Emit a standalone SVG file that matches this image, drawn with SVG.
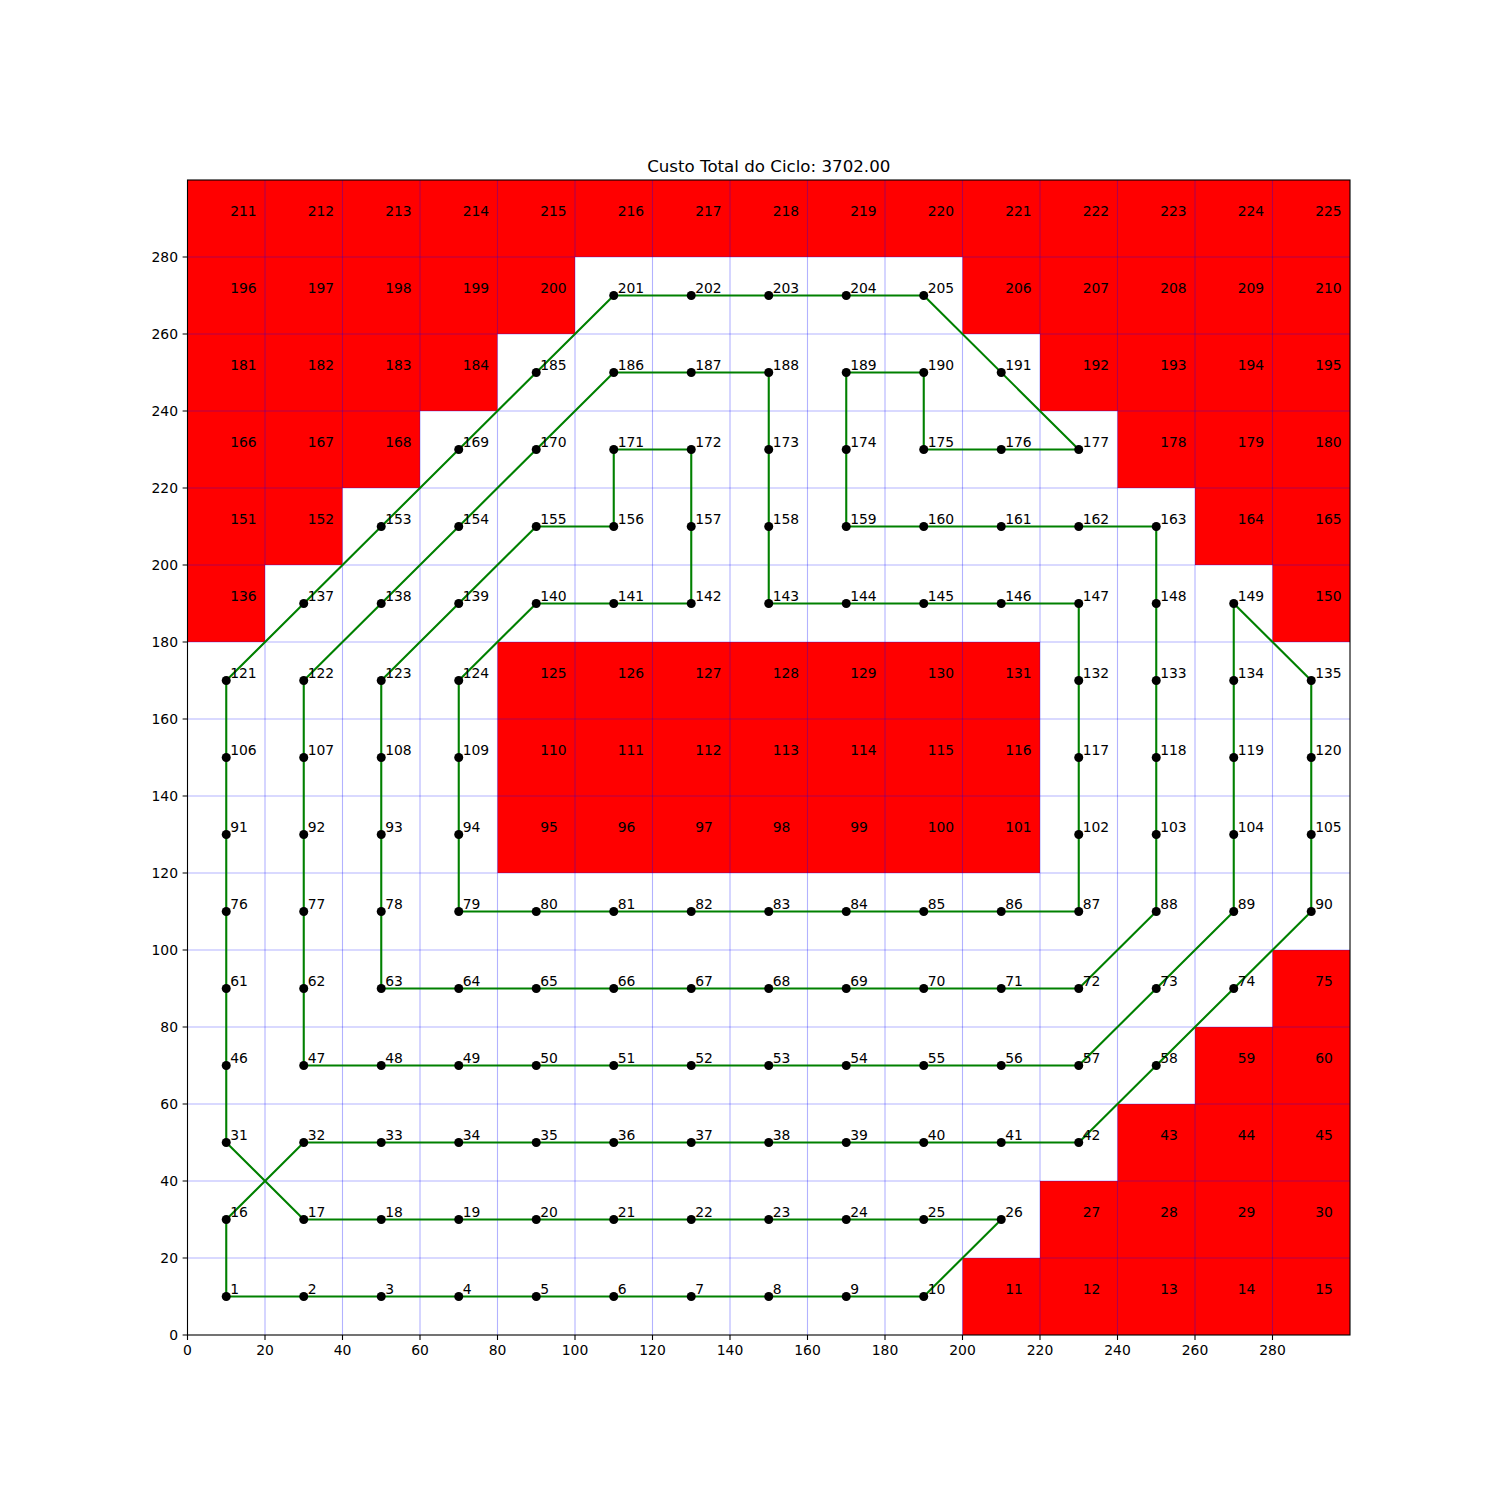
<svg xmlns="http://www.w3.org/2000/svg" width="1500" height="1500" viewBox="0 0 1500 1500">
<style>
text{font-family:"DejaVu Sans","Liberation Sans",sans-serif;fill:#000}
.l{font-size:13.9px}
.t{font-size:13.9px}
.ob{fill:#ff0000}
.gr{stroke:#0000ff;stroke-opacity:0.3;stroke-width:1.1;fill:none}
.tk{stroke:#000;stroke-width:1.1}
circle{fill:#000}
</style>
<rect width="1500" height="1500" fill="#fff"/>
<text x="768.75" y="172" font-size="16.67" text-anchor="middle">Custo Total do Ciclo: 3702.00</text>
<g id="obstacles">
<rect class="ob" x="187.5" y="180" width="1162.5" height="77"/>
<rect class="ob" x="187.5" y="257" width="387.5" height="77"/>
<rect class="ob" x="962.5" y="257" width="387.5" height="77"/>
<rect class="ob" x="187.5" y="334" width="310" height="77"/>
<rect class="ob" x="1040" y="334" width="310" height="77"/>
<rect class="ob" x="187.5" y="411" width="232.5" height="77"/>
<rect class="ob" x="1117.5" y="411" width="232.5" height="77"/>
<rect class="ob" x="187.5" y="488" width="155" height="77"/>
<rect class="ob" x="1195" y="488" width="155" height="77"/>
<rect class="ob" x="187.5" y="565" width="77.5" height="77"/>
<rect class="ob" x="1272.5" y="565" width="77.5" height="77"/>
<rect class="ob" x="497.5" y="642" width="542.5" height="231"/>
<rect class="ob" x="1272.5" y="950" width="77.5" height="77"/>
<rect class="ob" x="1195" y="1027" width="155" height="77"/>
<rect class="ob" x="1117.5" y="1104" width="232.5" height="77"/>
<rect class="ob" x="1040" y="1181" width="310" height="77"/>
<rect class="ob" x="962.5" y="1258" width="387.5" height="77"/>
</g>
<g id="grid" class="gr">
<path d="M265,180V1335M342.5,180V1335M420,180V1335M497.5,180V1335M575,180V1335M652.5,180V1335M730,180V1335M807.5,180V1335M885,180V1335M962.5,180V1335M1040,180V1335M1117.5,180V1335M1195,180V1335M1272.5,180V1335"/>
<path d="M187.5,1258H1350M187.5,1181H1350M187.5,1104H1350M187.5,1027H1350M187.5,950H1350M187.5,873H1350M187.5,796H1350M187.5,719H1350M187.5,642H1350M187.5,565H1350M187.5,488H1350M187.5,411H1350M187.5,334H1350M187.5,257H1350"/>
</g>
<g id="axes">
<rect x="187.5" y="180" width="1162.5" height="1155" fill="none" stroke="#000" stroke-width="1.1"/>
<path class="tk" d="M187.5,1335v4.9M265,1335v4.9M342.5,1335v4.9M420,1335v4.9M497.5,1335v4.9M575,1335v4.9M652.5,1335v4.9M730,1335v4.9M807.5,1335v4.9M885,1335v4.9M962.5,1335v4.9M1040,1335v4.9M1117.5,1335v4.9M1195,1335v4.9M1272.5,1335v4.9"/>
<path class="tk" d="M187.5,1335h-4.9M187.5,1258h-4.9M187.5,1181h-4.9M187.5,1104h-4.9M187.5,1027h-4.9M187.5,950h-4.9M187.5,873h-4.9M187.5,796h-4.9M187.5,719h-4.9M187.5,642h-4.9M187.5,565h-4.9M187.5,488h-4.9M187.5,411h-4.9M187.5,334h-4.9M187.5,257h-4.9"/>
<g class="t" text-anchor="middle">
<text x="187.5" y="1355">0</text><text x="265" y="1355">20</text><text x="342.5" y="1355">40</text><text x="420" y="1355">60</text><text x="497.5" y="1355">80</text><text x="575" y="1355">100</text><text x="652.5" y="1355">120</text><text x="730" y="1355">140</text><text x="807.5" y="1355">160</text><text x="885" y="1355">180</text><text x="962.5" y="1355">200</text><text x="1040" y="1355">220</text><text x="1117.5" y="1355">240</text><text x="1195" y="1355">260</text><text x="1272.5" y="1355">280</text>
</g>
<g class="t" text-anchor="end">
<text x="178" y="1340">0</text><text x="178" y="1263">20</text><text x="178" y="1186">40</text><text x="178" y="1109">60</text><text x="178" y="1032">80</text><text x="178" y="955">100</text><text x="178" y="878">120</text><text x="178" y="801">140</text><text x="178" y="724">160</text><text x="178" y="647">180</text><text x="178" y="570">200</text><text x="178" y="493">220</text><text x="178" y="416">240</text><text x="178" y="339">260</text><text x="178" y="262">280</text>
</g>
</g>
<g id="connectors">
<path fill="none" stroke="#008000" stroke-width="2.1" stroke-linejoin="round" d="M226.25,1296.5 L923.75,1296.5 L1001.25,1219.5 L303.75,1219.5 L226.25,1142.5 L226.25,680.5 L613.75,295.5 L923.75,295.5 L1078.75,449.5 L923.75,449.5 L923.75,372.5 L846.25,372.5 L846.25,526.5 L1156.25,526.5 L1156.25,911.5 L1078.75,988.5 L381.25,988.5 L381.25,680.5 L536.25,526.5 L613.75,526.5 L613.75,449.5 L691.25,449.5 L691.25,603.5 L536.25,603.5 L458.75,680.5 L458.75,911.5 L1078.75,911.5 L1078.75,603.5 L768.75,603.5 L768.75,372.5 L613.75,372.5 L303.75,680.5 L303.75,1065.5 L1078.75,1065.5 L1233.75,911.5 L1233.75,603.5 L1311.25,680.5 L1311.25,911.5 L1078.75,1142.5 L303.75,1142.5 L226.25,1219.5 Z"/>
</g>
<g id="nodes" class="l">
<g id="n1" transform="translate(226.25,1296.5)"><circle r="4.5"/><text x="3.9" y="-3">1</text></g>
<g id="n2" transform="translate(303.75,1296.5)"><circle r="4.5"/><text x="3.9" y="-3">2</text></g>
<g id="n3" transform="translate(381.25,1296.5)"><circle r="4.5"/><text x="3.9" y="-3">3</text></g>
<g id="n4" transform="translate(458.75,1296.5)"><circle r="4.5"/><text x="3.9" y="-3">4</text></g>
<g id="n5" transform="translate(536.25,1296.5)"><circle r="4.5"/><text x="3.9" y="-3">5</text></g>
<g id="n6" transform="translate(613.75,1296.5)"><circle r="4.5"/><text x="3.9" y="-3">6</text></g>
<g id="n7" transform="translate(691.25,1296.5)"><circle r="4.5"/><text x="3.9" y="-3">7</text></g>
<g id="n8" transform="translate(768.75,1296.5)"><circle r="4.5"/><text x="3.9" y="-3">8</text></g>
<g id="n9" transform="translate(846.25,1296.5)"><circle r="4.5"/><text x="3.9" y="-3">9</text></g>
<g id="n10" transform="translate(923.75,1296.5)"><circle r="4.5"/><text x="3.9" y="-3">10</text></g>
<g id="n11" transform="translate(1001.25,1296.5)"><text x="3.9" y="-3">11</text></g>
<g id="n12" transform="translate(1078.75,1296.5)"><text x="3.9" y="-3">12</text></g>
<g id="n13" transform="translate(1156.25,1296.5)"><text x="3.9" y="-3">13</text></g>
<g id="n14" transform="translate(1233.75,1296.5)"><text x="3.9" y="-3">14</text></g>
<g id="n15" transform="translate(1311.25,1296.5)"><text x="3.9" y="-3">15</text></g>
<g id="n16" transform="translate(226.25,1219.5)"><circle r="4.5"/><text x="3.9" y="-3">16</text></g>
<g id="n17" transform="translate(303.75,1219.5)"><circle r="4.5"/><text x="3.9" y="-3">17</text></g>
<g id="n18" transform="translate(381.25,1219.5)"><circle r="4.5"/><text x="3.9" y="-3">18</text></g>
<g id="n19" transform="translate(458.75,1219.5)"><circle r="4.5"/><text x="3.9" y="-3">19</text></g>
<g id="n20" transform="translate(536.25,1219.5)"><circle r="4.5"/><text x="3.9" y="-3">20</text></g>
<g id="n21" transform="translate(613.75,1219.5)"><circle r="4.5"/><text x="3.9" y="-3">21</text></g>
<g id="n22" transform="translate(691.25,1219.5)"><circle r="4.5"/><text x="3.9" y="-3">22</text></g>
<g id="n23" transform="translate(768.75,1219.5)"><circle r="4.5"/><text x="3.9" y="-3">23</text></g>
<g id="n24" transform="translate(846.25,1219.5)"><circle r="4.5"/><text x="3.9" y="-3">24</text></g>
<g id="n25" transform="translate(923.75,1219.5)"><circle r="4.5"/><text x="3.9" y="-3">25</text></g>
<g id="n26" transform="translate(1001.25,1219.5)"><circle r="4.5"/><text x="3.9" y="-3">26</text></g>
<g id="n27" transform="translate(1078.75,1219.5)"><text x="3.9" y="-3">27</text></g>
<g id="n28" transform="translate(1156.25,1219.5)"><text x="3.9" y="-3">28</text></g>
<g id="n29" transform="translate(1233.75,1219.5)"><text x="3.9" y="-3">29</text></g>
<g id="n30" transform="translate(1311.25,1219.5)"><text x="3.9" y="-3">30</text></g>
<g id="n31" transform="translate(226.25,1142.5)"><circle r="4.5"/><text x="3.9" y="-3">31</text></g>
<g id="n32" transform="translate(303.75,1142.5)"><circle r="4.5"/><text x="3.9" y="-3">32</text></g>
<g id="n33" transform="translate(381.25,1142.5)"><circle r="4.5"/><text x="3.9" y="-3">33</text></g>
<g id="n34" transform="translate(458.75,1142.5)"><circle r="4.5"/><text x="3.9" y="-3">34</text></g>
<g id="n35" transform="translate(536.25,1142.5)"><circle r="4.5"/><text x="3.9" y="-3">35</text></g>
<g id="n36" transform="translate(613.75,1142.5)"><circle r="4.5"/><text x="3.9" y="-3">36</text></g>
<g id="n37" transform="translate(691.25,1142.5)"><circle r="4.5"/><text x="3.9" y="-3">37</text></g>
<g id="n38" transform="translate(768.75,1142.5)"><circle r="4.5"/><text x="3.9" y="-3">38</text></g>
<g id="n39" transform="translate(846.25,1142.5)"><circle r="4.5"/><text x="3.9" y="-3">39</text></g>
<g id="n40" transform="translate(923.75,1142.5)"><circle r="4.5"/><text x="3.9" y="-3">40</text></g>
<g id="n41" transform="translate(1001.25,1142.5)"><circle r="4.5"/><text x="3.9" y="-3">41</text></g>
<g id="n42" transform="translate(1078.75,1142.5)"><circle r="4.5"/><text x="3.9" y="-3">42</text></g>
<g id="n43" transform="translate(1156.25,1142.5)"><text x="3.9" y="-3">43</text></g>
<g id="n44" transform="translate(1233.75,1142.5)"><text x="3.9" y="-3">44</text></g>
<g id="n45" transform="translate(1311.25,1142.5)"><text x="3.9" y="-3">45</text></g>
<g id="n46" transform="translate(226.25,1065.5)"><circle r="4.5"/><text x="3.9" y="-3">46</text></g>
<g id="n47" transform="translate(303.75,1065.5)"><circle r="4.5"/><text x="3.9" y="-3">47</text></g>
<g id="n48" transform="translate(381.25,1065.5)"><circle r="4.5"/><text x="3.9" y="-3">48</text></g>
<g id="n49" transform="translate(458.75,1065.5)"><circle r="4.5"/><text x="3.9" y="-3">49</text></g>
<g id="n50" transform="translate(536.25,1065.5)"><circle r="4.5"/><text x="3.9" y="-3">50</text></g>
<g id="n51" transform="translate(613.75,1065.5)"><circle r="4.5"/><text x="3.9" y="-3">51</text></g>
<g id="n52" transform="translate(691.25,1065.5)"><circle r="4.5"/><text x="3.9" y="-3">52</text></g>
<g id="n53" transform="translate(768.75,1065.5)"><circle r="4.5"/><text x="3.9" y="-3">53</text></g>
<g id="n54" transform="translate(846.25,1065.5)"><circle r="4.5"/><text x="3.9" y="-3">54</text></g>
<g id="n55" transform="translate(923.75,1065.5)"><circle r="4.5"/><text x="3.9" y="-3">55</text></g>
<g id="n56" transform="translate(1001.25,1065.5)"><circle r="4.5"/><text x="3.9" y="-3">56</text></g>
<g id="n57" transform="translate(1078.75,1065.5)"><circle r="4.5"/><text x="3.9" y="-3">57</text></g>
<g id="n58" transform="translate(1156.25,1065.5)"><circle r="4.5"/><text x="3.9" y="-3">58</text></g>
<g id="n59" transform="translate(1233.75,1065.5)"><text x="3.9" y="-3">59</text></g>
<g id="n60" transform="translate(1311.25,1065.5)"><text x="3.9" y="-3">60</text></g>
<g id="n61" transform="translate(226.25,988.5)"><circle r="4.5"/><text x="3.9" y="-3">61</text></g>
<g id="n62" transform="translate(303.75,988.5)"><circle r="4.5"/><text x="3.9" y="-3">62</text></g>
<g id="n63" transform="translate(381.25,988.5)"><circle r="4.5"/><text x="3.9" y="-3">63</text></g>
<g id="n64" transform="translate(458.75,988.5)"><circle r="4.5"/><text x="3.9" y="-3">64</text></g>
<g id="n65" transform="translate(536.25,988.5)"><circle r="4.5"/><text x="3.9" y="-3">65</text></g>
<g id="n66" transform="translate(613.75,988.5)"><circle r="4.5"/><text x="3.9" y="-3">66</text></g>
<g id="n67" transform="translate(691.25,988.5)"><circle r="4.5"/><text x="3.9" y="-3">67</text></g>
<g id="n68" transform="translate(768.75,988.5)"><circle r="4.5"/><text x="3.9" y="-3">68</text></g>
<g id="n69" transform="translate(846.25,988.5)"><circle r="4.5"/><text x="3.9" y="-3">69</text></g>
<g id="n70" transform="translate(923.75,988.5)"><circle r="4.5"/><text x="3.9" y="-3">70</text></g>
<g id="n71" transform="translate(1001.25,988.5)"><circle r="4.5"/><text x="3.9" y="-3">71</text></g>
<g id="n72" transform="translate(1078.75,988.5)"><circle r="4.5"/><text x="3.9" y="-3">72</text></g>
<g id="n73" transform="translate(1156.25,988.5)"><circle r="4.5"/><text x="3.9" y="-3">73</text></g>
<g id="n74" transform="translate(1233.75,988.5)"><circle r="4.5"/><text x="3.9" y="-3">74</text></g>
<g id="n75" transform="translate(1311.25,988.5)"><text x="3.9" y="-3">75</text></g>
<g id="n76" transform="translate(226.25,911.5)"><circle r="4.5"/><text x="3.9" y="-3">76</text></g>
<g id="n77" transform="translate(303.75,911.5)"><circle r="4.5"/><text x="3.9" y="-3">77</text></g>
<g id="n78" transform="translate(381.25,911.5)"><circle r="4.5"/><text x="3.9" y="-3">78</text></g>
<g id="n79" transform="translate(458.75,911.5)"><circle r="4.5"/><text x="3.9" y="-3">79</text></g>
<g id="n80" transform="translate(536.25,911.5)"><circle r="4.5"/><text x="3.9" y="-3">80</text></g>
<g id="n81" transform="translate(613.75,911.5)"><circle r="4.5"/><text x="3.9" y="-3">81</text></g>
<g id="n82" transform="translate(691.25,911.5)"><circle r="4.5"/><text x="3.9" y="-3">82</text></g>
<g id="n83" transform="translate(768.75,911.5)"><circle r="4.5"/><text x="3.9" y="-3">83</text></g>
<g id="n84" transform="translate(846.25,911.5)"><circle r="4.5"/><text x="3.9" y="-3">84</text></g>
<g id="n85" transform="translate(923.75,911.5)"><circle r="4.5"/><text x="3.9" y="-3">85</text></g>
<g id="n86" transform="translate(1001.25,911.5)"><circle r="4.5"/><text x="3.9" y="-3">86</text></g>
<g id="n87" transform="translate(1078.75,911.5)"><circle r="4.5"/><text x="3.9" y="-3">87</text></g>
<g id="n88" transform="translate(1156.25,911.5)"><circle r="4.5"/><text x="3.9" y="-3">88</text></g>
<g id="n89" transform="translate(1233.75,911.5)"><circle r="4.5"/><text x="3.9" y="-3">89</text></g>
<g id="n90" transform="translate(1311.25,911.5)"><circle r="4.5"/><text x="3.9" y="-3">90</text></g>
<g id="n91" transform="translate(226.25,834.5)"><circle r="4.5"/><text x="3.9" y="-3">91</text></g>
<g id="n92" transform="translate(303.75,834.5)"><circle r="4.5"/><text x="3.9" y="-3">92</text></g>
<g id="n93" transform="translate(381.25,834.5)"><circle r="4.5"/><text x="3.9" y="-3">93</text></g>
<g id="n94" transform="translate(458.75,834.5)"><circle r="4.5"/><text x="3.9" y="-3">94</text></g>
<g id="n95" transform="translate(536.25,834.5)"><text x="3.9" y="-3">95</text></g>
<g id="n96" transform="translate(613.75,834.5)"><text x="3.9" y="-3">96</text></g>
<g id="n97" transform="translate(691.25,834.5)"><text x="3.9" y="-3">97</text></g>
<g id="n98" transform="translate(768.75,834.5)"><text x="3.9" y="-3">98</text></g>
<g id="n99" transform="translate(846.25,834.5)"><text x="3.9" y="-3">99</text></g>
<g id="n100" transform="translate(923.75,834.5)"><text x="3.9" y="-3">100</text></g>
<g id="n101" transform="translate(1001.25,834.5)"><text x="3.9" y="-3">101</text></g>
<g id="n102" transform="translate(1078.75,834.5)"><circle r="4.5"/><text x="3.9" y="-3">102</text></g>
<g id="n103" transform="translate(1156.25,834.5)"><circle r="4.5"/><text x="3.9" y="-3">103</text></g>
<g id="n104" transform="translate(1233.75,834.5)"><circle r="4.5"/><text x="3.9" y="-3">104</text></g>
<g id="n105" transform="translate(1311.25,834.5)"><circle r="4.5"/><text x="3.9" y="-3">105</text></g>
<g id="n106" transform="translate(226.25,757.5)"><circle r="4.5"/><text x="3.9" y="-3">106</text></g>
<g id="n107" transform="translate(303.75,757.5)"><circle r="4.5"/><text x="3.9" y="-3">107</text></g>
<g id="n108" transform="translate(381.25,757.5)"><circle r="4.5"/><text x="3.9" y="-3">108</text></g>
<g id="n109" transform="translate(458.75,757.5)"><circle r="4.5"/><text x="3.9" y="-3">109</text></g>
<g id="n110" transform="translate(536.25,757.5)"><text x="3.9" y="-3">110</text></g>
<g id="n111" transform="translate(613.75,757.5)"><text x="3.9" y="-3">111</text></g>
<g id="n112" transform="translate(691.25,757.5)"><text x="3.9" y="-3">112</text></g>
<g id="n113" transform="translate(768.75,757.5)"><text x="3.9" y="-3">113</text></g>
<g id="n114" transform="translate(846.25,757.5)"><text x="3.9" y="-3">114</text></g>
<g id="n115" transform="translate(923.75,757.5)"><text x="3.9" y="-3">115</text></g>
<g id="n116" transform="translate(1001.25,757.5)"><text x="3.9" y="-3">116</text></g>
<g id="n117" transform="translate(1078.75,757.5)"><circle r="4.5"/><text x="3.9" y="-3">117</text></g>
<g id="n118" transform="translate(1156.25,757.5)"><circle r="4.5"/><text x="3.9" y="-3">118</text></g>
<g id="n119" transform="translate(1233.75,757.5)"><circle r="4.5"/><text x="3.9" y="-3">119</text></g>
<g id="n120" transform="translate(1311.25,757.5)"><circle r="4.5"/><text x="3.9" y="-3">120</text></g>
<g id="n121" transform="translate(226.25,680.5)"><circle r="4.5"/><text x="3.9" y="-3">121</text></g>
<g id="n122" transform="translate(303.75,680.5)"><circle r="4.5"/><text x="3.9" y="-3">122</text></g>
<g id="n123" transform="translate(381.25,680.5)"><circle r="4.5"/><text x="3.9" y="-3">123</text></g>
<g id="n124" transform="translate(458.75,680.5)"><circle r="4.5"/><text x="3.9" y="-3">124</text></g>
<g id="n125" transform="translate(536.25,680.5)"><text x="3.9" y="-3">125</text></g>
<g id="n126" transform="translate(613.75,680.5)"><text x="3.9" y="-3">126</text></g>
<g id="n127" transform="translate(691.25,680.5)"><text x="3.9" y="-3">127</text></g>
<g id="n128" transform="translate(768.75,680.5)"><text x="3.9" y="-3">128</text></g>
<g id="n129" transform="translate(846.25,680.5)"><text x="3.9" y="-3">129</text></g>
<g id="n130" transform="translate(923.75,680.5)"><text x="3.9" y="-3">130</text></g>
<g id="n131" transform="translate(1001.25,680.5)"><text x="3.9" y="-3">131</text></g>
<g id="n132" transform="translate(1078.75,680.5)"><circle r="4.5"/><text x="3.9" y="-3">132</text></g>
<g id="n133" transform="translate(1156.25,680.5)"><circle r="4.5"/><text x="3.9" y="-3">133</text></g>
<g id="n134" transform="translate(1233.75,680.5)"><circle r="4.5"/><text x="3.9" y="-3">134</text></g>
<g id="n135" transform="translate(1311.25,680.5)"><circle r="4.5"/><text x="3.9" y="-3">135</text></g>
<g id="n136" transform="translate(226.25,603.5)"><text x="3.9" y="-3">136</text></g>
<g id="n137" transform="translate(303.75,603.5)"><circle r="4.5"/><text x="3.9" y="-3">137</text></g>
<g id="n138" transform="translate(381.25,603.5)"><circle r="4.5"/><text x="3.9" y="-3">138</text></g>
<g id="n139" transform="translate(458.75,603.5)"><circle r="4.5"/><text x="3.9" y="-3">139</text></g>
<g id="n140" transform="translate(536.25,603.5)"><circle r="4.5"/><text x="3.9" y="-3">140</text></g>
<g id="n141" transform="translate(613.75,603.5)"><circle r="4.5"/><text x="3.9" y="-3">141</text></g>
<g id="n142" transform="translate(691.25,603.5)"><circle r="4.5"/><text x="3.9" y="-3">142</text></g>
<g id="n143" transform="translate(768.75,603.5)"><circle r="4.5"/><text x="3.9" y="-3">143</text></g>
<g id="n144" transform="translate(846.25,603.5)"><circle r="4.5"/><text x="3.9" y="-3">144</text></g>
<g id="n145" transform="translate(923.75,603.5)"><circle r="4.5"/><text x="3.9" y="-3">145</text></g>
<g id="n146" transform="translate(1001.25,603.5)"><circle r="4.5"/><text x="3.9" y="-3">146</text></g>
<g id="n147" transform="translate(1078.75,603.5)"><circle r="4.5"/><text x="3.9" y="-3">147</text></g>
<g id="n148" transform="translate(1156.25,603.5)"><circle r="4.5"/><text x="3.9" y="-3">148</text></g>
<g id="n149" transform="translate(1233.75,603.5)"><circle r="4.5"/><text x="3.9" y="-3">149</text></g>
<g id="n150" transform="translate(1311.25,603.5)"><text x="3.9" y="-3">150</text></g>
<g id="n151" transform="translate(226.25,526.5)"><text x="3.9" y="-3">151</text></g>
<g id="n152" transform="translate(303.75,526.5)"><text x="3.9" y="-3">152</text></g>
<g id="n153" transform="translate(381.25,526.5)"><circle r="4.5"/><text x="3.9" y="-3">153</text></g>
<g id="n154" transform="translate(458.75,526.5)"><circle r="4.5"/><text x="3.9" y="-3">154</text></g>
<g id="n155" transform="translate(536.25,526.5)"><circle r="4.5"/><text x="3.9" y="-3">155</text></g>
<g id="n156" transform="translate(613.75,526.5)"><circle r="4.5"/><text x="3.9" y="-3">156</text></g>
<g id="n157" transform="translate(691.25,526.5)"><circle r="4.5"/><text x="3.9" y="-3">157</text></g>
<g id="n158" transform="translate(768.75,526.5)"><circle r="4.5"/><text x="3.9" y="-3">158</text></g>
<g id="n159" transform="translate(846.25,526.5)"><circle r="4.5"/><text x="3.9" y="-3">159</text></g>
<g id="n160" transform="translate(923.75,526.5)"><circle r="4.5"/><text x="3.9" y="-3">160</text></g>
<g id="n161" transform="translate(1001.25,526.5)"><circle r="4.5"/><text x="3.9" y="-3">161</text></g>
<g id="n162" transform="translate(1078.75,526.5)"><circle r="4.5"/><text x="3.9" y="-3">162</text></g>
<g id="n163" transform="translate(1156.25,526.5)"><circle r="4.5"/><text x="3.9" y="-3">163</text></g>
<g id="n164" transform="translate(1233.75,526.5)"><text x="3.9" y="-3">164</text></g>
<g id="n165" transform="translate(1311.25,526.5)"><text x="3.9" y="-3">165</text></g>
<g id="n166" transform="translate(226.25,449.5)"><text x="3.9" y="-3">166</text></g>
<g id="n167" transform="translate(303.75,449.5)"><text x="3.9" y="-3">167</text></g>
<g id="n168" transform="translate(381.25,449.5)"><text x="3.9" y="-3">168</text></g>
<g id="n169" transform="translate(458.75,449.5)"><circle r="4.5"/><text x="3.9" y="-3">169</text></g>
<g id="n170" transform="translate(536.25,449.5)"><circle r="4.5"/><text x="3.9" y="-3">170</text></g>
<g id="n171" transform="translate(613.75,449.5)"><circle r="4.5"/><text x="3.9" y="-3">171</text></g>
<g id="n172" transform="translate(691.25,449.5)"><circle r="4.5"/><text x="3.9" y="-3">172</text></g>
<g id="n173" transform="translate(768.75,449.5)"><circle r="4.5"/><text x="3.9" y="-3">173</text></g>
<g id="n174" transform="translate(846.25,449.5)"><circle r="4.5"/><text x="3.9" y="-3">174</text></g>
<g id="n175" transform="translate(923.75,449.5)"><circle r="4.5"/><text x="3.9" y="-3">175</text></g>
<g id="n176" transform="translate(1001.25,449.5)"><circle r="4.5"/><text x="3.9" y="-3">176</text></g>
<g id="n177" transform="translate(1078.75,449.5)"><circle r="4.5"/><text x="3.9" y="-3">177</text></g>
<g id="n178" transform="translate(1156.25,449.5)"><text x="3.9" y="-3">178</text></g>
<g id="n179" transform="translate(1233.75,449.5)"><text x="3.9" y="-3">179</text></g>
<g id="n180" transform="translate(1311.25,449.5)"><text x="3.9" y="-3">180</text></g>
<g id="n181" transform="translate(226.25,372.5)"><text x="3.9" y="-3">181</text></g>
<g id="n182" transform="translate(303.75,372.5)"><text x="3.9" y="-3">182</text></g>
<g id="n183" transform="translate(381.25,372.5)"><text x="3.9" y="-3">183</text></g>
<g id="n184" transform="translate(458.75,372.5)"><text x="3.9" y="-3">184</text></g>
<g id="n185" transform="translate(536.25,372.5)"><circle r="4.5"/><text x="3.9" y="-3">185</text></g>
<g id="n186" transform="translate(613.75,372.5)"><circle r="4.5"/><text x="3.9" y="-3">186</text></g>
<g id="n187" transform="translate(691.25,372.5)"><circle r="4.5"/><text x="3.9" y="-3">187</text></g>
<g id="n188" transform="translate(768.75,372.5)"><circle r="4.5"/><text x="3.9" y="-3">188</text></g>
<g id="n189" transform="translate(846.25,372.5)"><circle r="4.5"/><text x="3.9" y="-3">189</text></g>
<g id="n190" transform="translate(923.75,372.5)"><circle r="4.5"/><text x="3.9" y="-3">190</text></g>
<g id="n191" transform="translate(1001.25,372.5)"><circle r="4.5"/><text x="3.9" y="-3">191</text></g>
<g id="n192" transform="translate(1078.75,372.5)"><text x="3.9" y="-3">192</text></g>
<g id="n193" transform="translate(1156.25,372.5)"><text x="3.9" y="-3">193</text></g>
<g id="n194" transform="translate(1233.75,372.5)"><text x="3.9" y="-3">194</text></g>
<g id="n195" transform="translate(1311.25,372.5)"><text x="3.9" y="-3">195</text></g>
<g id="n196" transform="translate(226.25,295.5)"><text x="3.9" y="-3">196</text></g>
<g id="n197" transform="translate(303.75,295.5)"><text x="3.9" y="-3">197</text></g>
<g id="n198" transform="translate(381.25,295.5)"><text x="3.9" y="-3">198</text></g>
<g id="n199" transform="translate(458.75,295.5)"><text x="3.9" y="-3">199</text></g>
<g id="n200" transform="translate(536.25,295.5)"><text x="3.9" y="-3">200</text></g>
<g id="n201" transform="translate(613.75,295.5)"><circle r="4.5"/><text x="3.9" y="-3">201</text></g>
<g id="n202" transform="translate(691.25,295.5)"><circle r="4.5"/><text x="3.9" y="-3">202</text></g>
<g id="n203" transform="translate(768.75,295.5)"><circle r="4.5"/><text x="3.9" y="-3">203</text></g>
<g id="n204" transform="translate(846.25,295.5)"><circle r="4.5"/><text x="3.9" y="-3">204</text></g>
<g id="n205" transform="translate(923.75,295.5)"><circle r="4.5"/><text x="3.9" y="-3">205</text></g>
<g id="n206" transform="translate(1001.25,295.5)"><text x="3.9" y="-3">206</text></g>
<g id="n207" transform="translate(1078.75,295.5)"><text x="3.9" y="-3">207</text></g>
<g id="n208" transform="translate(1156.25,295.5)"><text x="3.9" y="-3">208</text></g>
<g id="n209" transform="translate(1233.75,295.5)"><text x="3.9" y="-3">209</text></g>
<g id="n210" transform="translate(1311.25,295.5)"><text x="3.9" y="-3">210</text></g>
<g id="n211" transform="translate(226.25,218.5)"><text x="3.9" y="-3">211</text></g>
<g id="n212" transform="translate(303.75,218.5)"><text x="3.9" y="-3">212</text></g>
<g id="n213" transform="translate(381.25,218.5)"><text x="3.9" y="-3">213</text></g>
<g id="n214" transform="translate(458.75,218.5)"><text x="3.9" y="-3">214</text></g>
<g id="n215" transform="translate(536.25,218.5)"><text x="3.9" y="-3">215</text></g>
<g id="n216" transform="translate(613.75,218.5)"><text x="3.9" y="-3">216</text></g>
<g id="n217" transform="translate(691.25,218.5)"><text x="3.9" y="-3">217</text></g>
<g id="n218" transform="translate(768.75,218.5)"><text x="3.9" y="-3">218</text></g>
<g id="n219" transform="translate(846.25,218.5)"><text x="3.9" y="-3">219</text></g>
<g id="n220" transform="translate(923.75,218.5)"><text x="3.9" y="-3">220</text></g>
<g id="n221" transform="translate(1001.25,218.5)"><text x="3.9" y="-3">221</text></g>
<g id="n222" transform="translate(1078.75,218.5)"><text x="3.9" y="-3">222</text></g>
<g id="n223" transform="translate(1156.25,218.5)"><text x="3.9" y="-3">223</text></g>
<g id="n224" transform="translate(1233.75,218.5)"><text x="3.9" y="-3">224</text></g>
<g id="n225" transform="translate(1311.25,218.5)"><text x="3.9" y="-3">225</text></g>
</g>
</svg>
